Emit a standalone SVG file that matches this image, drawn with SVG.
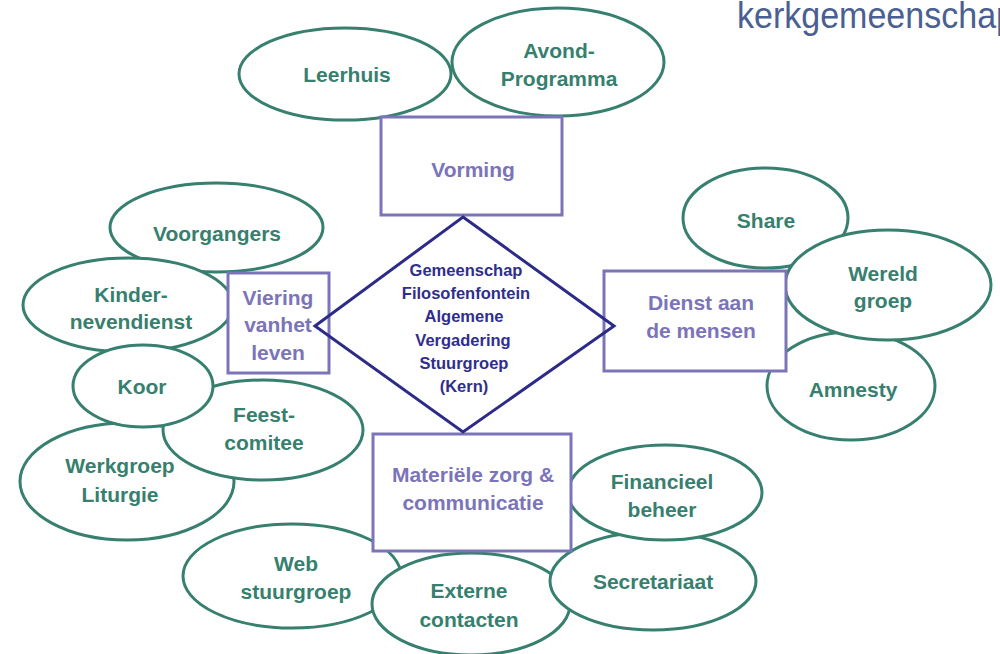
<svg xmlns="http://www.w3.org/2000/svg" width="1000" height="654" viewBox="0 0 1000 654">
<style>
.el{fill:#ffffff;stroke:#377f6e;stroke-width:3}
.et{font-family:"Liberation Sans",Arial,sans-serif;font-weight:bold;font-size:21px;fill:#377f6e;text-anchor:middle}
.bx{fill:#ffffff;stroke:#7b74b9;stroke-width:3}
.bt{font-family:"Liberation Sans",Arial,sans-serif;font-weight:bold;font-size:21px;fill:#7b74b9;text-anchor:middle}
.dm{fill:none;stroke:#2c2b88;stroke-width:3;stroke-linejoin:miter}
.dt{font-family:"Liberation Sans",Arial,sans-serif;font-weight:bold;font-size:16.5px;fill:#2f2e8c;text-anchor:middle}
.hd{font-family:"Liberation Sans",Arial,sans-serif;font-size:37px;fill:#4a6090}
</style>
<rect width="1000" height="654" fill="#ffffff"/>
<text class="hd" x="737" y="28" textLength="278" lengthAdjust="spacingAndGlyphs">kerkgemeenschap</text>

<g id="leerhuis"><ellipse class="el" cx="345" cy="74" rx="106" ry="46"/><text class="et" x="347" y="82">Leerhuis</text></g>
<g id="avondprogramma"><ellipse class="el" cx="558" cy="62" rx="106" ry="54"/><text class="et" x="559" y="58">Avond-</text><text class="et" x="559" y="86">Programma</text></g>

<g id="voorgangers"><ellipse class="el" cx="216.5" cy="227.5" rx="106.5" ry="44.5"/><text class="et" x="217" y="241">Voorgangers</text></g>
<g id="kindernevendienst"><ellipse class="el" cx="128" cy="305" rx="105" ry="47"/><text class="et" x="131" y="302">Kinder-</text><text class="et" x="131" y="329">nevendienst</text></g>
<g id="werkgroepliturgie"><ellipse class="el" cx="127" cy="481.5" rx="107" ry="58.5"/><text class="et" x="120" y="473">Werkgroep</text><text class="et" x="120" y="502">Liturgie</text></g>
<g id="feestcomitee"><ellipse class="el" cx="263" cy="430" rx="100" ry="50"/><text class="et" x="264" y="422">Feest-</text><text class="et" x="264" y="450">comitee</text></g>
<g id="koor"><ellipse class="el" cx="143" cy="386" rx="70" ry="41"/><text class="et" x="142" y="394">Koor</text></g>

<g id="share"><ellipse class="el" cx="765.5" cy="218" rx="82.5" ry="50"/><text class="et" x="766" y="228">Share</text></g>
<g id="amnesty"><ellipse class="el" cx="851" cy="386" rx="84" ry="54"/><text class="et" x="853" y="397">Amnesty</text></g>
<g id="wereldgroep"><ellipse class="el" cx="888" cy="285" rx="103" ry="55"/><text class="et" x="883" y="281">Wereld</text><text class="et" x="883" y="308">groep</text></g>

<g id="webstuurgroep"><ellipse class="el" cx="292" cy="576" rx="109" ry="52"/><text class="et" x="296" y="571">Web</text><text class="et" x="296" y="599">stuurgroep</text></g>
<g id="externecontacten"><ellipse class="el" cx="471" cy="604" rx="99" ry="51"/><text class="et" x="469" y="598">Externe</text><text class="et" x="469" y="627">contacten</text></g>
<g id="secretariaat"><ellipse class="el" cx="653" cy="581" rx="103" ry="49"/><text class="et" x="653" y="589">Secretariaat</text></g>
<g id="financieelbeheer"><ellipse class="el" cx="665" cy="492.5" rx="97" ry="47.5"/><text class="et" x="662" y="489">Financieel</text><text class="et" x="662" y="517">beheer</text></g>

<g id="vorming"><rect class="bx" x="381" y="117" width="181" height="98"/><text class="bt" x="473" y="177">Vorming</text></g>
<g id="viering"><rect class="bx" x="228" y="273" width="101" height="100"/><text class="bt" x="278" y="305">Viering</text><text class="bt" x="278" y="332">vanhet</text><text class="bt" x="278" y="360">leven</text></g>
<g id="dienst"><rect class="bx" x="604" y="271" width="182" height="100"/><text class="bt" x="701" y="310">Dienst aan</text><text class="bt" x="701" y="338">de mensen</text></g>
<g id="materiele"><rect class="bx" x="373" y="434" width="198" height="117"/><text class="bt" x="473" y="482">Materiële zorg &amp;</text><text class="bt" x="473" y="510">communicatie</text></g>

<g id="kern">
<polygon class="dm" points="463,217 614,326 463,432 315,326"/>
<text class="dt" x="466" y="275.5">Gemeenschap</text>
<text class="dt" x="466" y="298.5">Filosofenfontein</text>
<text class="dt" x="464" y="322">Algemene</text>
<text class="dt" x="463" y="345.5" font-weight="normal">Vergadering</text>
<text class="dt" x="464" y="369">Stuurgroep</text>
<text class="dt" x="464" y="391.5">(Kern)</text>
</g>
<g id="connectors"/>
</svg>
